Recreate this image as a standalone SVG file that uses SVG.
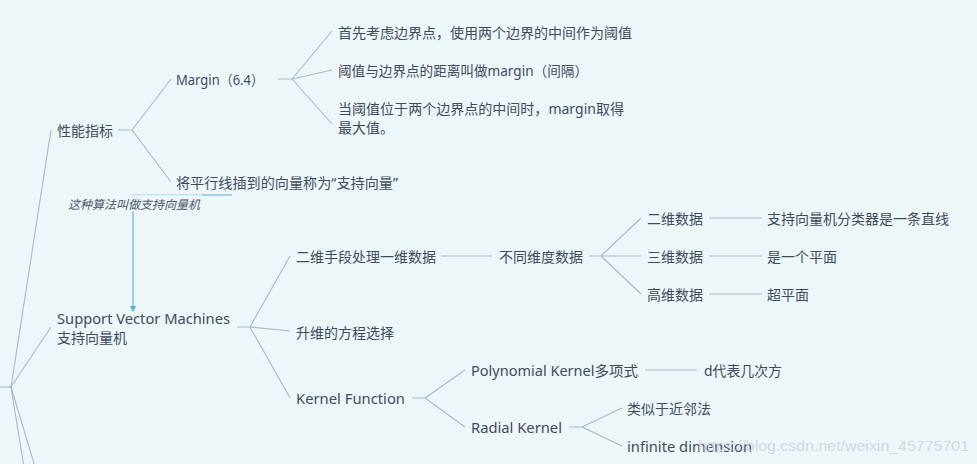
<svg xmlns="http://www.w3.org/2000/svg" width="977" height="464" viewBox="0 0 977 464">
<defs>
<style>
.t{font-family:"Noto Sans","Noto Sans CJK SC",sans-serif;font-size:14px;fill:#3f4b5e;dominant-baseline:central}
.lab{font-family:"Noto Sans CJK SC","Noto Sans",sans-serif;font-size:12px;fill:#4a5669;font-style:italic;dominant-baseline:central}
.c{fill:none;stroke:#aab8c8;stroke-width:1.1}
.wm{font-family:"Liberation Sans",Arial,sans-serif;font-size:15px;fill:#d2d8dd;dominant-baseline:central}
</style>
<marker id="ah" markerWidth="6" markerHeight="6" refX="5" refY="3" orient="auto" markerUnits="userSpaceOnUse">
<path d="M0,0 L6,3 L0,6 z" fill="#5aa9e0"/>
</marker>
</defs>
<rect width="977" height="464" fill="#edf7fa"/>
<g id="connectors">
<path class="c" d="M0,387 H11" stroke-width="1.6"/>
<path class="c" d="M11,387 L51,130"/>
<path class="c" d="M11,387 L51,327"/>
<path class="c" d="M11,387 L26,480"/>
<path class="c" d="M11,387 L39,480"/>
<path class="c" d="M118,130 H132 M132,130 L171,79 M132,130 L171,182"/>
<path class="c" d="M278,79 H292 M292,79 L332,31 M292,79 L332,70 M292,79 L332,124"/>
<path class="c" d="M237,327 H250 M250,327 L290,256 M250,327 L290,331 M250,327 L290,398"/>
<path class="c" d="M441,256 H492"/>
<path class="c" d="M589,256 H601 M601,256 L641,218 M601,256 L641,256 M601,256 L641,294"/>
<path class="c" d="M709,218 H762 M709,256 H762 M709,294 H762"/>
<path class="c" d="M412,398 H425 M425,398 L465,370 M425,398 L465,427"/>
<path class="c" d="M645,370 H697"/>
<path class="c" d="M569,427 H582 M582,427 L622,408 M582,427 L622,446"/>
<path d="M232,195 H133 V311" fill="none" stroke="#5aa9e0" stroke-width="1.1" marker-end="url(#ah)"/>
<rect x="64" y="194.5" width="138" height="17" fill="#edf7fa" opacity="0.85"/>
</g>
<g id="n-xingneng"><text class="t" x="57" y="130">性能指标</text></g>
<g id="n-margin"><text class="t" x="176" y="79" textLength="88" lengthAdjust="spacingAndGlyphs">Margin（6.4）</text></g>
<g id="n-m1"><text class="t" x="338" y="32">首先考虑边界点，使用两个边界的中间作为阈值</text></g>
<g id="n-m2"><text class="t" x="338" y="70" textLength="250" lengthAdjust="spacingAndGlyphs">阈值与边界点的距离叫做margin（间隔）</text></g>
<g id="n-m3"><text class="t" x="338" y="108" textLength="286" lengthAdjust="spacingAndGlyphs">当阈值位于两个边界点的中间时，margin取得</text><text class="t" x="338" y="127">最大值。</text></g>
<g id="n-pingxing"><text class="t" x="176" y="182" textLength="222" lengthAdjust="spacingAndGlyphs">将平行线插到的向量称为“支持向量”</text></g>
<g id="label-rel"><text class="lab" x="68" y="203">这种算法叫做支持向量机</text></g>
<g id="n-svm"><text class="t" x="57" y="318" textLength="173" lengthAdjust="spacingAndGlyphs">Support Vector Machines</text><text class="t" x="57" y="337">支持向量机</text></g>
<g id="n-erwei"><text class="t" x="296" y="256">二维手段处理一维数据</text></g>
<g id="n-butong"><text class="t" x="499" y="256">不同维度数据</text></g>
<g id="n-2d"><text class="t" x="647" y="218">二维数据</text></g>
<g id="n-2d-a"><text class="t" x="767" y="218">支持向量机分类器是一条直线</text></g>
<g id="n-3d"><text class="t" x="647" y="256">三维数据</text></g>
<g id="n-3d-a"><text class="t" x="767" y="256">是一个平面</text></g>
<g id="n-hd"><text class="t" x="647" y="294">高维数据</text></g>
<g id="n-hd-a"><text class="t" x="767" y="294">超平面</text></g>
<g id="n-shengwei"><text class="t" x="296" y="332">升维的方程选择</text></g>
<g id="n-kernel"><text class="t" x="296" y="398" textLength="109" lengthAdjust="spacingAndGlyphs">Kernel Function</text></g>
<g id="n-poly"><text class="t" x="471" y="370" textLength="167" lengthAdjust="spacingAndGlyphs">Polynomial Kernel多项式</text></g>
<g id="n-poly-a"><text class="t" x="704" y="370" textLength="78" lengthAdjust="spacingAndGlyphs">d代表几次方</text></g>
<g id="n-radial"><text class="t" x="471" y="427" textLength="91" lengthAdjust="spacingAndGlyphs">Radial Kernel</text></g>
<g id="n-r1"><text class="t" x="627" y="408">类似于近邻法</text></g>
<g id="n-r2"><text class="t" x="627" y="446" textLength="125" lengthAdjust="spacingAndGlyphs">infinite dimension</text></g>
<text class="wm" x="698" y="445" textLength="271" lengthAdjust="spacingAndGlyphs">https://blog.csdn.net/weixin_45775701</text>
</svg>
